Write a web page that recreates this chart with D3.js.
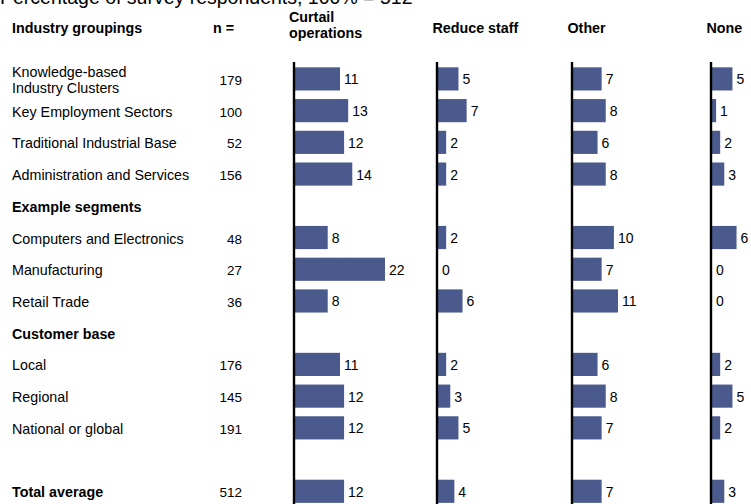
<!DOCTYPE html>
<html><head><meta charset="utf-8">
<script src="https://cdn.jsdelivr.net/npm/d3@7"></script>
<style>body{margin:0;background:#fff}svg{display:block;font-family:"Liberation Sans",Arial,sans-serif}</style>
</head><body>
<script>
const title = "Percentage of survey respondents, 100% = 512";
const rowLabels = [
  ["Knowledge-based","Industry Clusters"], ["Key Employment Sectors"], ["Traditional Industrial Base"],
  ["Administration and Services"], ["Example segments"], ["Computers and Electronics"],
  ["Manufacturing"], ["Retail Trade"], ["Customer base"], ["Local"], ["Regional"],
  ["National or global"], [""], ["Total average"]
];
const boldRows = [4, 8, 13];
const nValues = [179, 100, 52, 156, null, 48, 27, 36, null, 176, 145, 191, null, 512];
const seriesNames = [["Curtail","operations"], ["Reduce staff"], ["Other"], ["None"]];
const curtail = [11, 13, 12, 14, null, 8, 22, 8, null, 11, 12, 12, null, 12];
const reduceStaff = [5, 7, 2, 2, null, 2, 0, 6, null, 2, 3, 5, null, 4];
const other = [7, 8, 6, 8, null, 10, 7, 11, null, 6, 8, 7, null, 7];
const none = [5, 1, 2, 3, null, 6, 0, 0, null, 2, 5, 2, null, 3];
const series = [curtail, reduceStaff, other, none];

const W = 751, H = 504;
const svg = d3.select("body").append("svg").attr("width", W).attr("height", H);

const y = d3.scaleBand().domain(d3.range(rowLabels.length)).range([63.2, 507]).paddingInner(0.27).paddingOuter(0.13);
const colX = [294, 437, 572, 711];
const x = d3.scaleLinear().domain([0, 22]).range([0, 90]);
const color = "#4a5a8c";
const fs = 14.3;
const nfs = 13.5;

svg.append("text").attr("x", 0).attr("y", 4).attr("font-size", 19.5).text(title);

svg.append("text").attr("x", 12).attr("y", 33).attr("font-size", fs).attr("font-weight", "bold").text("Industry groupings");
svg.append("text").attr("x", 213).attr("y", 33).attr("font-size", fs).attr("font-weight", "bold").text("n =");
seriesNames.forEach((nm, j) => {
  const t = svg.append("text").attr("font-size", fs).attr("font-weight", "bold");
  if (nm.length === 2) {
    t.append("tspan").attr("x", colX[j] - 5).attr("y", 22).text(nm[0]);
    t.append("tspan").attr("x", colX[j] - 5).attr("y", 38).text(nm[1]);
  } else {
    t.attr("x", colX[j] - 4.5).attr("y", 33).text(nm[0]);
  }
});

rowLabels.forEach((lab, i) => {
  const cy = y(i) + y.bandwidth() / 2;
  const t = svg.append("text").attr("font-size", fs).attr("font-weight", boldRows.includes(i) ? "bold" : "normal");
  if (lab.length === 2) {
    t.append("tspan").attr("x", 12).attr("y", cy - 1.5).text(lab[0]);
    t.append("tspan").attr("x", 12).attr("y", cy + 14.5).text(lab[1]);
  } else {
    t.attr("x", 12).attr("y", cy + 6).text(lab[0]);
  }
  if (nValues[i] != null) {
    svg.append("text").attr("x", 242).attr("y", cy + 6).attr("font-size", nfs).attr("text-anchor", "end").text(nValues[i]);
  }
});

series.forEach((vals, j) => {
  const g = svg.append("g").attr("transform", `translate(${colX[j]},0)`);
  vals.forEach((v, i) => {
    if (v == null) return;
    const cy = y(i) + y.bandwidth() / 2;
    if (v > 0) g.append("rect").attr("x", 1).attr("y", y(i)).attr("width", x(v)).attr("height", y.bandwidth()).attr("fill", color);
    g.append("text").attr("x", 1 + x(v) + 4).attr("y", cy + 5.5).attr("font-size", 14).text(v);
  });
  g.append("line").attr("x1", 0).attr("x2", 0).attr("y1", 62).attr("y2", H).attr("stroke", "#000").attr("stroke-width", 2.4);
});
</script>
</body></html>
